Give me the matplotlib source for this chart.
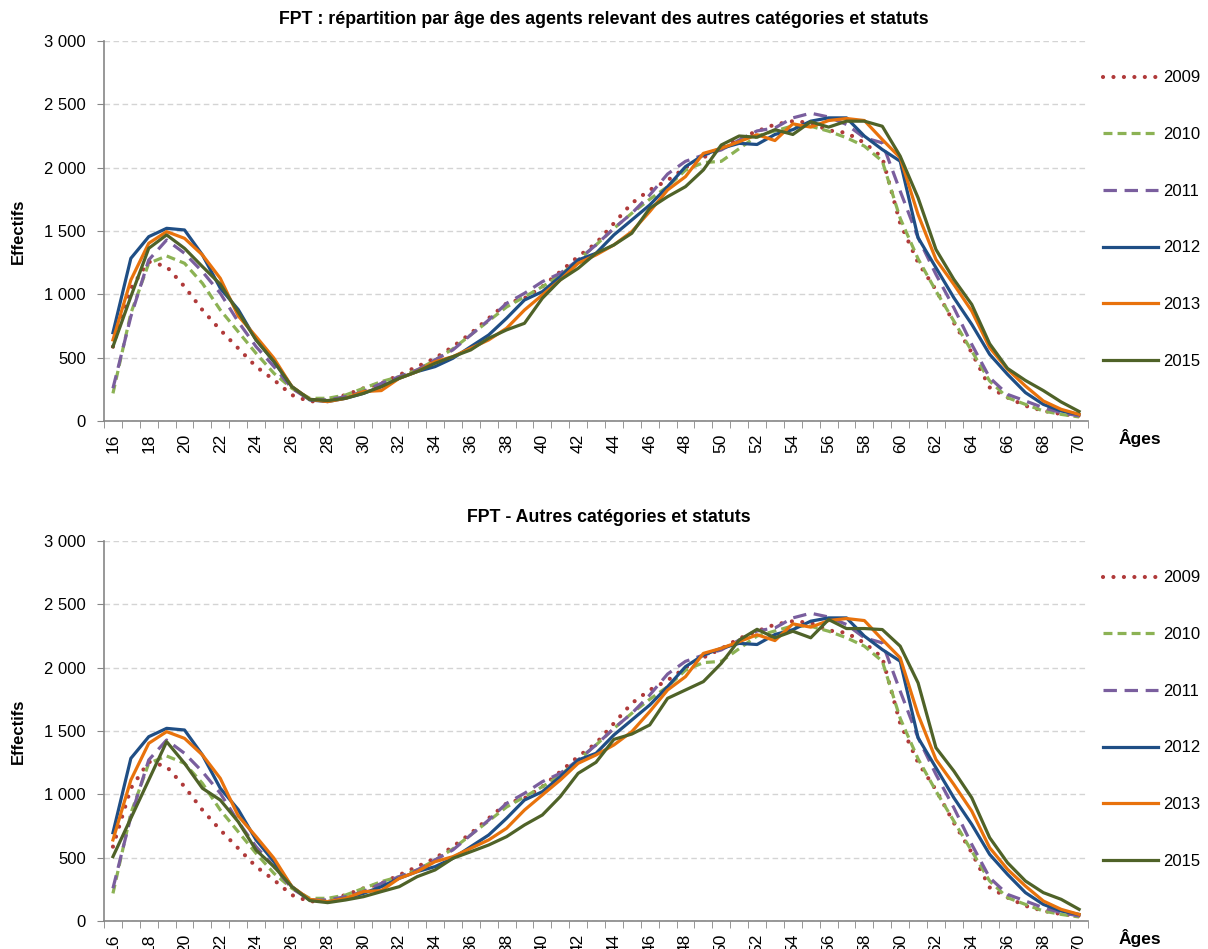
import matplotlib
matplotlib.use("Agg")
import matplotlib.pyplot as plt
from matplotlib.ticker import FixedLocator

plt.rcParams['font.family'] = ['Liberation Sans', 'DejaVu Sans']

# Data
ages = list(range(16, 71))
years = ["2009", "2010", "2011", "2012", "2013", "2015"]

v2009 = [587, 1048, 1258, 1219, 1061, 876, 719, 574, 429, 324,
         205, 153, 166, 205, 258, 297, 363, 429, 495, 587,
         692, 811, 929, 969, 1061, 1179, 1298, 1403, 1561, 1719,
         1824, 1900, 2000, 2080, 2150, 2230, 2288, 2341, 2367, 2354,
         2294, 2275, 2196, 2080, 1560, 1250, 1035, 775, 540, 265,
         185, 120, 80, 55, 40]
v2010 = [218, 850, 1245, 1303, 1245, 1087, 876, 705, 534, 376,
         258, 179, 179, 205, 258, 311, 350, 403, 480, 570,
         680, 790, 900, 980, 1060, 1150, 1270, 1390, 1520, 1640,
         1750, 1850, 1980, 2040, 2050, 2150, 2250, 2290, 2330, 2327,
         2288, 2236, 2170, 2051, 1600, 1280, 1026, 789, 552, 316,
         184, 131, 79, 52, 32]
v2011 = [258, 824, 1271, 1429, 1324, 1179, 1008, 784, 587, 429,
         258, 166, 166, 192, 232, 297, 350, 403, 482, 561,
         679, 797, 929, 1008, 1100, 1166, 1271, 1390, 1521, 1640,
         1784, 1950, 2050, 2100, 2140, 2218, 2290, 2314, 2393, 2430,
         2400, 2341, 2236, 2196, 1815, 1447, 1157, 894, 605, 342,
         210, 158, 105, 66, 40]
v2012 = [697, 1284, 1455, 1521, 1508, 1311, 1048, 880, 640, 468,
         271, 166, 153, 179, 218, 271, 337, 390, 429, 495,
         587, 679, 811, 955, 1021, 1140, 1271, 1324, 1469, 1587,
         1705, 1850, 2008, 2100, 2153, 2192, 2183, 2262, 2300, 2367,
         2393, 2393, 2249, 2143, 2051, 1447, 1210, 973, 763, 526,
         368, 224, 131, 79, 52]
v2013 = [640, 1113, 1403, 1495, 1442, 1311, 1126, 830, 666, 495,
         271, 171, 153, 179, 232, 240, 337, 390, 468, 508,
         574, 640, 732, 876, 995, 1113, 1245, 1311, 1390, 1495,
         1653, 1824, 1929, 2113, 2153, 2205, 2260, 2214, 2346, 2320,
         2372, 2388, 2372, 2222, 2078, 1630, 1275, 1078, 868, 579,
         408, 276, 158, 92, 52]
v2015_top = [587, 982, 1363, 1469, 1363, 1219, 1080, 860, 640, 470,
             271, 171, 161, 179, 218, 271, 337, 390, 455, 508,
             561, 653, 719, 771, 969, 1113, 1205, 1324, 1390, 1482,
             1679, 1771, 1850, 1982, 2179, 2250, 2240, 2300, 2262, 2362,
             2320, 2367, 2367, 2327, 2091, 1762, 1354, 1118, 920, 610,
             415, 320, 240, 150, 75]
v2015_bottom = [508, 811, 1113, 1416, 1245, 1048, 955, 784, 560, 429,
                271, 161, 145, 166, 192, 232, 271, 350, 403, 495,
                547, 600, 666, 758, 837, 982, 1166, 1253, 1434, 1476,
                1548, 1758, 1824, 1890, 2034, 2218, 2303, 2236, 2288, 2236,
                2380, 2309, 2309, 2301, 2170, 1880, 1368, 1184, 973, 658,
                460, 316, 224, 171, 92]

yticks = [0, 500, 1000, 1500, 2000, 2500, 3000]
ytick_labels = ["0", "500", "1 000", "1 500", "2 000", "2 500", "3 000"]
xtick_ages = list(range(16, 71, 2))

titles = ["FPT : répartition par âge des agents relevant des autres catégories et statuts",
          "FPT - Autres catégories et statuts"]

colors = ["#B03A3A", "#8CB254", "#7A5E9E", "#1F4E85", "#E8720C", "#4F6228"]
styles = [(0, (0.01, 2.5)), (0, (2.8, 1.6)), (0, (4.2, 2.4)), "-", "-", "-"]
widths = [3.0, 2.3, 2.3, 2.3, 2.3, 2.3]
caps = ["round", "butt", "butt", "butt", "butt", "butt"]


def draw(ax, v2015, title, title_x, title_y):
    data = [v2009, v2010, v2011, v2012, v2013, v2015]
    for y, vals, c, ls, lw, cap in zip(years, data, colors, styles, widths, caps):
        ax.plot(ages, vals, color=c, linestyle=ls, lw=lw, label=y,
                dash_capstyle=cap, solid_joinstyle="round")

    ax.set_xlim(15.5, 70.5)
    ax.set_ylim(0, 3000)
    ax.set_yticks(yticks)
    ax.set_yticklabels(ytick_labels, fontsize=12)
    ax.set_xticks(xtick_ages)
    ax.set_xticklabels([str(a) for a in xtick_ages], rotation=90, fontsize=12.5)
    ax.xaxis.set_minor_locator(FixedLocator([a + 0.5 for a in range(15, 71)]))
    ax.tick_params(axis="x", which="major", length=0, pad=9)
    ax.tick_params(axis="x", which="minor", length=5, color="#868686")
    ax.tick_params(axis="y", length=5, color="#868686", pad=8)

    ax.grid(axis="y", linestyle=(0, (4, 2.5)), color="#D4D4D4", lw=1)
    ax.set_axisbelow(True)
    for s in ["top", "right"]:
        ax.spines[s].set_visible(False)
    for s in ["left", "bottom"]:
        ax.spines[s].set_color("#868686")
        ax.spines[s].set_linewidth(1.2)

    ax.text(-0.087, 0.5, "Effectifs", transform=ax.transAxes, rotation=90,
            ha="center", va="center", fontsize=12, fontweight="bold")
    ax.text(1.053, -0.045, "Âges", transform=ax.transAxes,
            ha="center", va="center", fontsize=12.5, fontweight="bold")
    fig.text(title_x, title_y, title, ha="center", va="center",
             fontsize=12.8, fontweight="bold")

    ax.legend(loc="center left", bbox_to_anchor=(1.015, 0.53), frameon=False,
              fontsize=12, handlelength=3.3, handletextpad=0.3,
              labelspacing=2.5, borderpad=0, borderaxespad=0)


fig = plt.figure(figsize=(12.08, 9.49), dpi=100)
ax_top = fig.add_axes([0.0861, 0.5564, 0.8146, 0.4004])
ax_bot = fig.add_axes([0.0861, 0.0295, 0.8146, 0.4004])

draw(ax_top, v2015_top, titles[0], 0.5, 0.979)
draw(ax_bot, v2015_bottom, titles[1], 0.504, 0.455)

fig.savefig("out.png", dpi=100)
